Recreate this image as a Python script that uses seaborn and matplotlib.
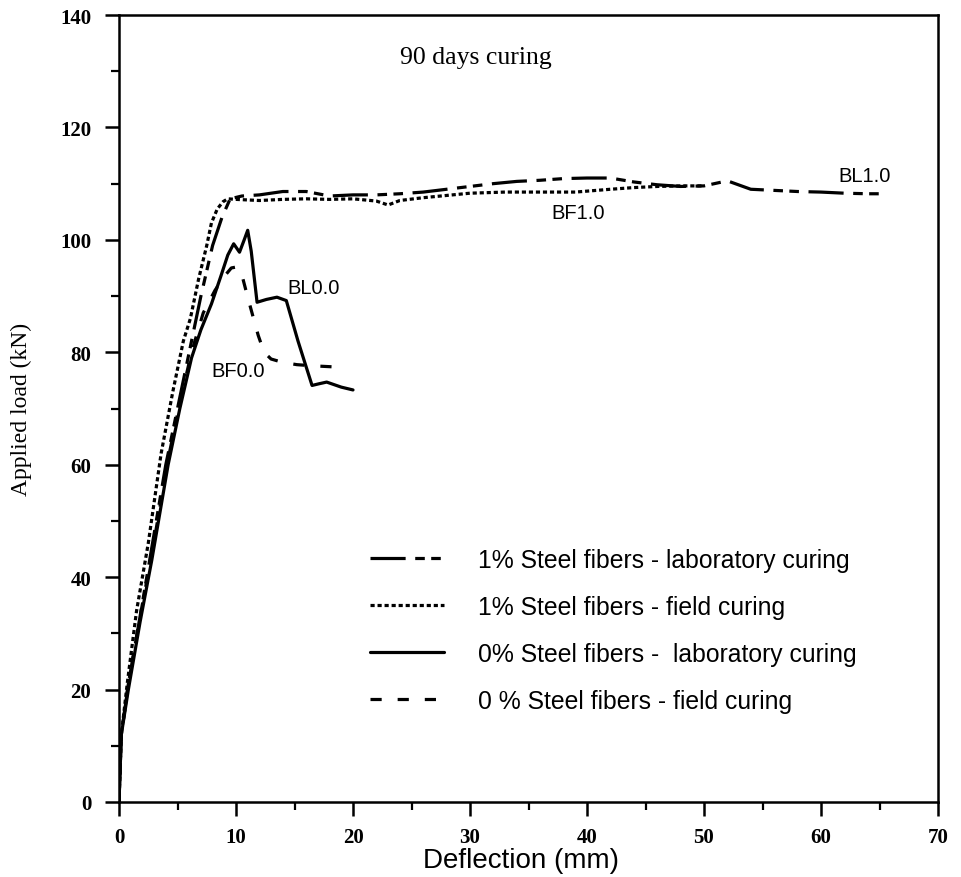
import numpy as np
import pandas as pd
import matplotlib
matplotlib.use("Agg")
import matplotlib.pyplot as plt
import seaborn as sns
from matplotlib.ticker import MultipleLocator

# ---------------- data ----------------
bl10_x = [0, 0.2, 0.8, 1.8, 2.7, 4.0, 5.0, 6.0, 7.0, 8.0, 8.8, 9.5, 10.5, 12, 14, 16,
          18, 20, 22, 24, 26, 28, 30, 32, 34, 36, 38, 40, 42, 44, 46, 48, 50, 52,
          54, 56, 58, 60, 62, 64, 65]
bl10_y = [0, 12, 21, 33, 44, 60, 70, 80, 90, 99, 104, 107.3, 107.8, 108, 108.6, 108.6,
          107.8, 108, 108, 108.2, 108.5, 109, 109.5, 110, 110.4, 110.6, 110.9, 111, 111,
          110.3, 109.8, 109.5, 109.6, 110.5, 109, 108.8, 108.6, 108.5, 108.3, 108.2, 108.2]

bf10_x = [0, 0.2, 0.7, 1.5, 2.5, 3.6, 4.6, 5.5, 6.1, 6.8, 7.5, 7.9, 8.4, 8.9, 9.3, 10,
          12, 14, 16, 18, 20, 22, 23, 24, 26, 28, 30, 33, 36, 39, 42, 44, 46, 48, 50]
bf10_y = [0, 12, 21, 34, 46, 62, 73, 82, 86, 93, 99, 103, 105.5, 106.8, 107.3, 107.2,
          107, 107.2, 107.3, 107.2, 107.3, 106.9, 106.2, 107, 107.5, 107.9, 108.3, 108.5,
          108.5, 108.5, 109, 109.3, 109.5, 109.6, 109.6]

bl00_x = [0, 0.2, 0.8, 1.8, 2.8, 4.2, 5.2, 6.2, 7.0, 7.9, 8.7, 9.3, 9.8, 10.3, 10.7,
          11.0, 11.3, 11.8, 12.6, 13.5, 14.3, 15.3, 16.5, 17.1, 17.75, 19.0, 20.0]
bl00_y = [0, 12, 20, 32, 43, 60, 70, 79, 84, 88.6, 93.5, 97.3, 99.3, 97.8, 100,
          101.7, 98, 88.9, 89.4, 89.8, 89.2, 82, 74.1, 74.4, 74.7, 73.8, 73.3]

bf00_x = [0, 0.2, 0.8, 1.8, 2.8, 4.2, 5.2, 6.2, 7.2, 8.2, 9.0, 9.6, 10.1, 10.6, 11.0,
          11.5, 11.9, 12.4, 13.0, 14.0, 15.2, 16.5, 18.4]
bf00_y = [0, 12, 21, 33, 44, 61, 71, 80, 87, 91, 93.5, 95, 95.2, 93, 89.8,
          86, 83, 80, 78.8, 78.2, 77.8, 77.6, 77.4]

legend_labels = ["1% Steel fibers - laboratory curing",
                 "1% Steel fibers - field curing",
                 "0% Steel fibers -  laboratory curing",
                 "0 % Steel fibers - field curing"]
curve_names = ["BL1.0", "BF1.0", "BL0.0", "BF0.0"]
title_text = "90 days curing"
x_ticks = [0, 10, 20, 30, 40, 50, 60, 70]
y_ticks = [0, 20, 40, 60, 80, 100, 120, 140]

# ---------------- figure ----------------
sns.set_theme(style="white")
plt.rcParams["font.family"] = ["Liberation Sans", "DejaVu Sans"]

fig = plt.figure(figsize=(9.61, 8.78), dpi=100)
ax = fig.add_axes([119 / 961, 1 - 803 / 878, (938 - 119) / 961, (803 - 16) / 878])

lw = 2.3
series = [
    (bl10_x, bl10_y, (0, (11, 3, 3, 2, 3, 3))),
    (bf10_x, bf10_y, (0, (1.3, 0.9))),
    (bl00_x, bl00_y, "-"),
    (bf00_x, bf00_y, (0, (3.5, 5))),
]
for (xs, ys, ls), lab in zip(series, legend_labels):
    df = pd.DataFrame({"x": xs, "y": ys})
    sns.lineplot(data=df, x="x", y="y", sort=False, estimator=None, ax=ax,
                 color="black", linewidth=lw, linestyle=ls, label=lab)

ax.set_xlim(0, 70)
ax.set_ylim(0, 140)
ax.set_xticks(x_ticks)
ax.set_yticks(y_ticks)
ax.xaxis.set_minor_locator(MultipleLocator(5))
ax.yaxis.set_minor_locator(MultipleLocator(10))

for sp in ax.spines.values():
    sp.set_color("black")
    sp.set_linewidth(1.8)

ax.tick_params(axis="both", which="major", direction="out", length=10, width=1.8,
               color="black", bottom=True, left=True, top=False, right=False)
ax.tick_params(axis="both", which="minor", direction="out", length=6, width=1.6,
               color="black", bottom=True, left=True, top=False, right=False)
ax.tick_params(axis="x", which="major", pad=8)
ax.tick_params(axis="y", which="major", pad=10)

serif = ["Liberation Serif", "DejaVu Serif"]
for t in ax.get_xticklabels() + ax.get_yticklabels():
    t.set_fontfamily(serif)
    t.set_fontsize(15)
    t.set_fontweight("bold")
    t.set_color("black")

ax.set_xlabel("Deflection (mm)", fontsize=20, color="black",
              family=["Liberation Sans", "DejaVu Sans"])
ax.xaxis.set_label_coords(0.4908, -0.0575)
ax.set_ylabel("Applied load (kN)", fontsize=17, color="black", labelpad=20,
              family=serif)

ax.text(30.5, 132.5, title_text, ha="center", va="center", fontsize=18.5,
        family=serif, color="black")

ann_pos = [(63.7, 111.4), (39.2, 104.8), (16.6, 91.5), (10.2, 76.7)]
for name, (px, py) in zip(curve_names, ann_pos):
    ax.text(px, py, name, ha="center", va="center", fontsize=14.5, color="black")

leg = ax.legend(loc="upper left", bbox_to_anchor=(0.3065, 0.323), frameon=False,
                fontsize=17.8, handlelength=3.0, handletextpad=1.35, labelspacing=0.93,
                borderpad=0, borderaxespad=0)
for t in leg.get_texts():
    t.set_color("black")

fig.savefig("out.png", dpi=100, facecolor="white")
